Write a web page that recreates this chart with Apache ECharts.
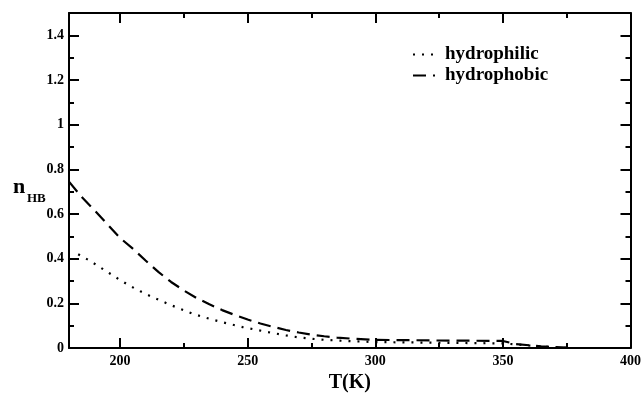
<!DOCTYPE html>
<html>
<head>
<meta charset="utf-8">
<script src="https://cdn.jsdelivr.net/npm/echarts@6/dist/echarts.min.js"></script>
<style>html,body{margin:0;padding:0;background:#fff}#c{width:644px;height:398px}</style>
</head>
<body>
<div id="c"></div>
<script>
const seriesNames = ['hydrophilic', 'hydrophobic'];
const philicT = [183.6, 188, 192, 196, 200, 204, 208, 212, 216, 220, 224, 228, 232, 236, 240, 244, 248, 252, 256, 260, 265, 270, 275, 280, 290, 300, 325, 350, 360, 370, 375];
const philicN = [0.42, 0.392, 0.363, 0.334, 0.305, 0.278, 0.254, 0.232, 0.212, 0.192, 0.174, 0.156, 0.141, 0.128, 0.116, 0.105, 0.094, 0.085, 0.076, 0.067, 0.057, 0.048, 0.042, 0.037, 0.031, 0.027, 0.024, 0.021, 0.012, 0.004, 0.001];
const phobicT = [180, 185, 190, 195, 200, 205, 210, 215, 220, 225, 230, 235, 240, 245, 250, 255, 260, 265, 270, 275, 280, 285, 290, 300, 325, 350, 355, 365, 375];
const phobicN = [0.745, 0.676, 0.617, 0.555, 0.493, 0.445, 0.392, 0.341, 0.296, 0.258, 0.224, 0.196, 0.170, 0.148, 0.128, 0.110, 0.095, 0.081, 0.070, 0.060, 0.053, 0.047, 0.043, 0.037, 0.034, 0.032, 0.018, 0.008, 0.002];
const xMin = 180, xMax = 400;
const xMajorTicks = [200, 250, 300, 350, 400];
const xMinorTicks = [225, 275, 325, 375];
const yMin = 0, yMax = 1.5, yMajor = 0.2, yMinor = 0.1;
const xTitle = 'T(K)';
const yTitleMain = 'n', yTitleSub = 'HB';

const FONT = '"Liberation Serif", "Times New Roman", serif';
const zip = (a, b) => a.map((v, i) => [v, b[i]]);

function xAxisDef(pos, major, labels) {
  const vals = major ? xMajorTicks : xMinorTicks;
  return {
    type: 'value', position: pos, min: xMin, max: xMax,
    name: labels ? xTitle : '', nameLocation: 'middle', nameGap: 22,
    nameTextStyle: {fontFamily: FONT, fontWeight: 'bold', fontSize: 20, color: '#000'},
    axisLine: {show: major, onZero: false, lineStyle: {color: '#000', width: 2}},
    axisTick: {show: true, inside: true, length: major ? 10 : 5, customValues: vals, lineStyle: {color: '#000', width: 2}},
    axisLabel: {show: labels, customValues: vals, color: '#000', fontFamily: FONT, fontWeight: 'bold', fontSize: 14, margin: 6},
    splitLine: {show: false}
  };
}
function yAxisDef(pos, major, labels) {
  return {
    type: 'value', position: pos, min: yMin, max: yMax,
    interval: major ? yMajor : yMinor,
    axisLine: {show: major, onZero: false, lineStyle: {color: '#000', width: 2}},
    axisTick: {show: true, inside: true, length: major ? 10 : 5, lineStyle: {color: '#000', width: 2}},
    axisLabel: {show: labels, showMaxLabel: false, color: '#000', fontFamily: FONT, fontWeight: 'bold', fontSize: 14, margin: 5,
      formatter: v => String(Math.round(v * 10) / 10)},
    splitLine: {show: false}
  };
}

const chart = echarts.init(document.getElementById('c'), null, {renderer: 'canvas'});
chart.setOption({
  animation: false,
  backgroundColor: '#fff',
  grid: {left: 69, right: 12, top: 13, bottom: 39, containLabel: false},
  xAxis: [xAxisDef('bottom', true, true), xAxisDef('bottom', false, false), xAxisDef('top', true, false), xAxisDef('top', false, false)],
  yAxis: [yAxisDef('left', true, true), yAxisDef('left', false, false), yAxisDef('right', true, false), yAxisDef('right', false, false)],
  legend: {
    orient: 'vertical', left: 407, top: 40, itemWidth: 22, itemHeight: 10, itemGap: 2,
    itemStyle: {opacity: 0},
    textStyle: {fontFamily: FONT, fontWeight: 'bold', fontSize: 19, color: '#000', padding: [0, 0, 0, 5]},
    data: seriesNames
  },
  graphic: [
    {type: 'text', left: 13, top: 176, style: {text: yTitleMain, font: 'bold 22px ' + FONT, fill: '#000'}},
    {type: 'text', left: 27, top: 192, style: {text: yTitleSub, font: 'bold 13px ' + FONT, fill: '#000'}}
  ],
  series: [
    {name: seriesNames[0], type: 'line', xAxisIndex: 0, yAxisIndex: 0, showSymbol: false, symbol: 'none',
     data: zip(philicT, philicN), lineStyle: {color: '#000', width: 2.2, type: [2, 7]}, itemStyle: {color: '#000'}},
    {name: seriesNames[1], type: 'line', xAxisIndex: 0, yAxisIndex: 0, showSymbol: false, symbol: 'none',
     data: zip(phobicT, phobicN), lineStyle: {color: '#000', width: 2.2, type: [13, 7]}, itemStyle: {color: '#000'}}
  ]
});
</script>
</body>
</html>
